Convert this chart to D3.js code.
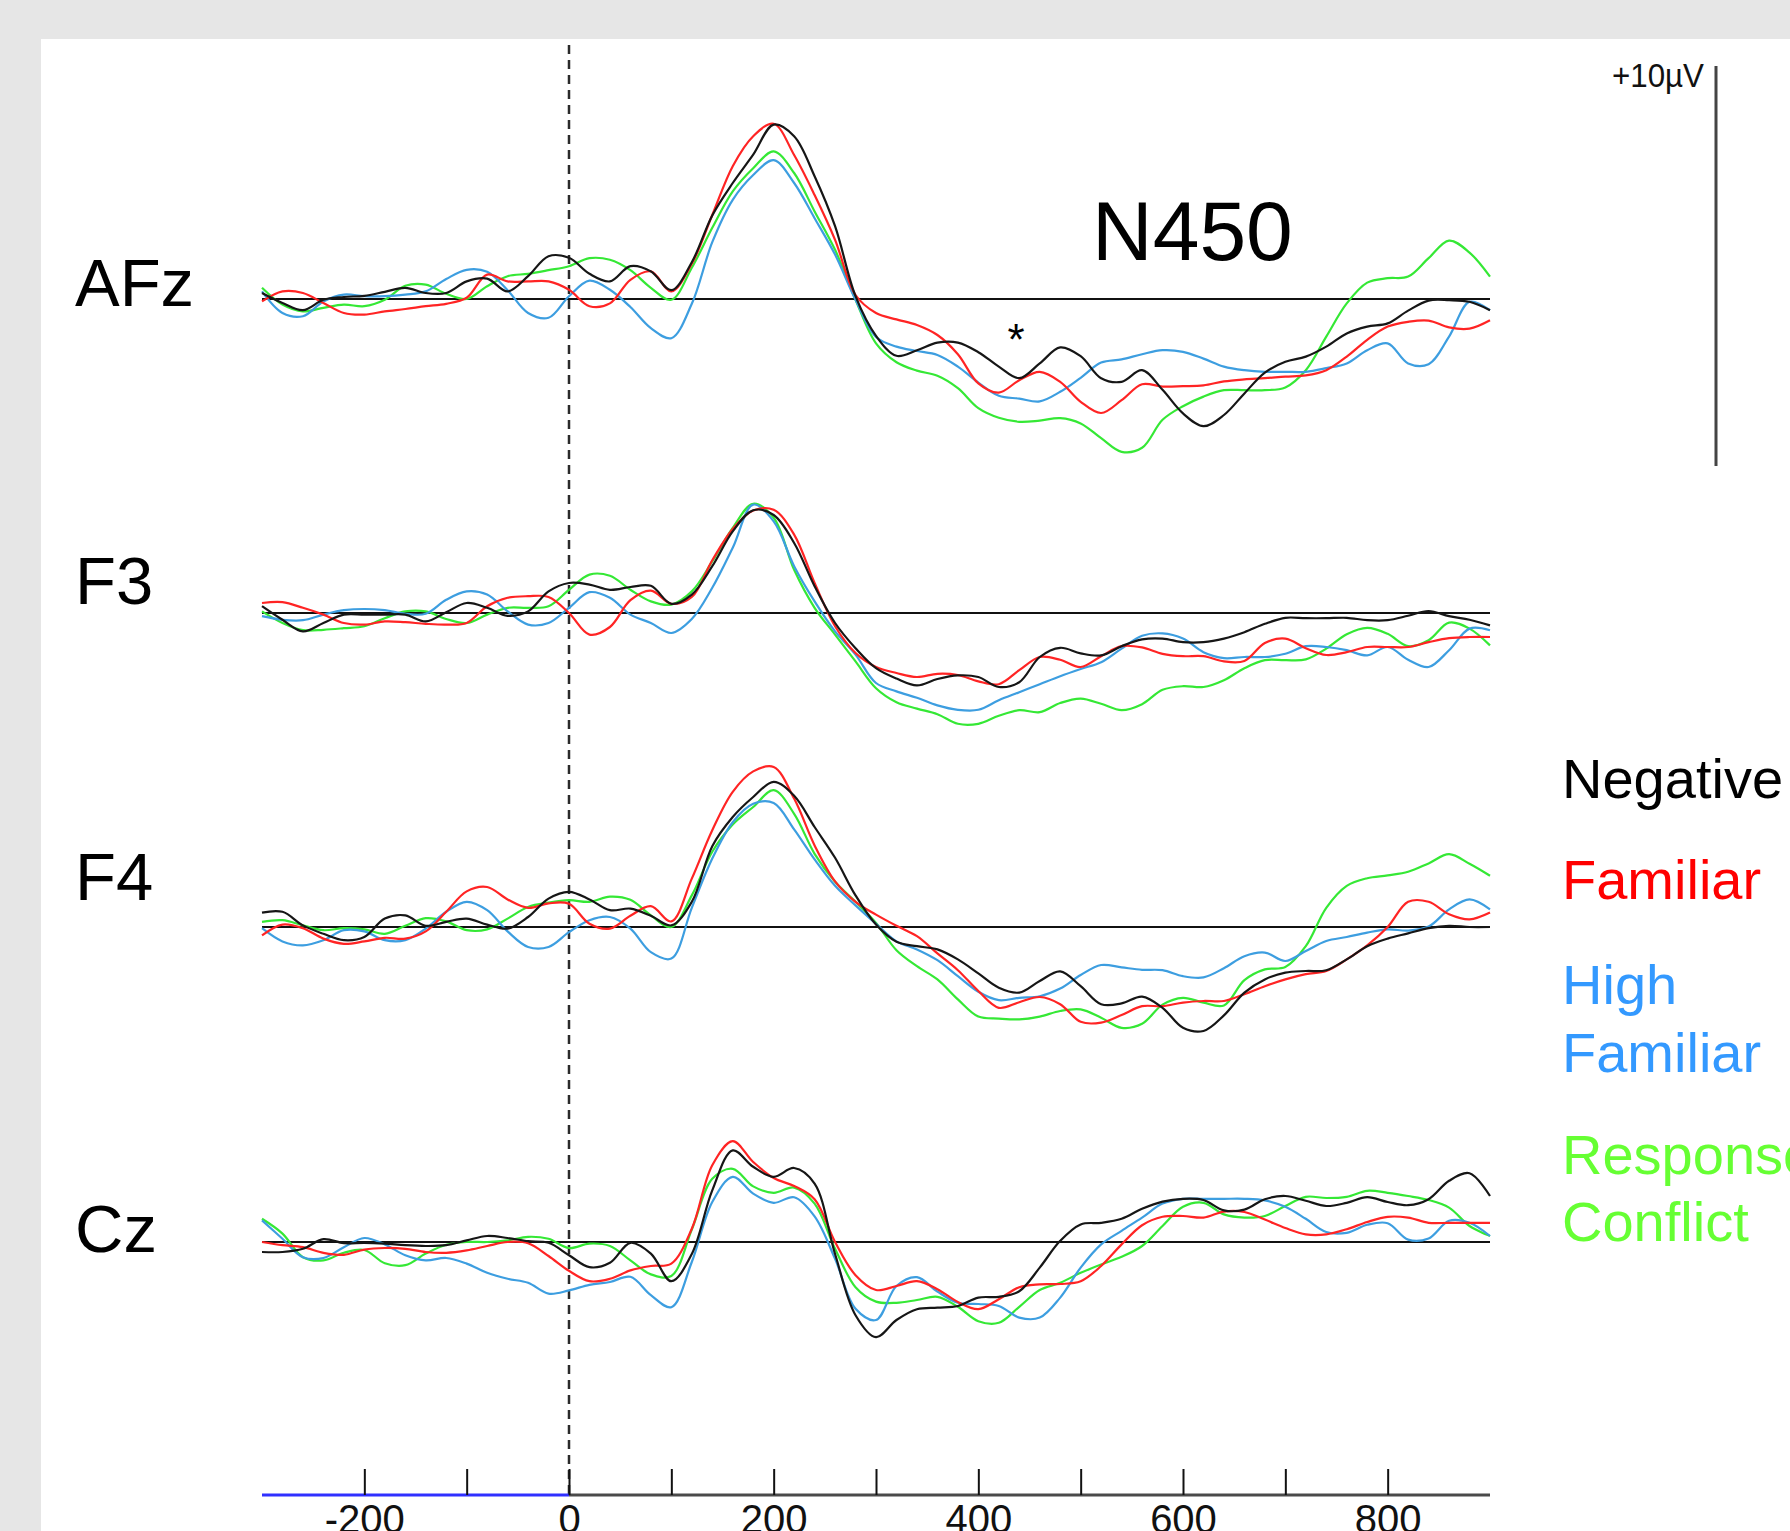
<!DOCTYPE html>
<html>
<head>
<meta charset="utf-8">
<script src="https://cdn.jsdelivr.net/npm/d3@7"></script>
<style>
  html, body { margin: 0; padding: 0; background: #e6e6e6; }
  svg { display: block; }
  text { font-family: "Liberation Sans", Arial, sans-serif; }
</style>
</head>
<body>
<svg id="chart" width="1790" height="1531"></svg>
<script>
// ---------------- DATA ----------------
// time points (ms), one value every 20 ms from -300 to 900
const times = d3.range(-300, 901, 20);
const channels = ["AFz", "F3", "F4", "Cz"];
const conditions = ["Negative", "Familiar", "High Familiar", "Response Conflict"];
const axisTicks = [-200, -100, 0, 100, 200, 300, 400, 500, 600, 700, 800];
const axisLabels = [-200, 0, 200, 400, 600, 800];
const scaleBarLabel = "+10µV";
const componentLabel = "N450";

// amplitudes in µV
const afzNegative = [0.15,-0.1,-0.28,-0.02,0.05,0.08,0.18,0.28,0.15,0.15,0.44,0.51,0.19,0.57,1.07,1.03,0.63,0.44,0.82,0.69,0.22,0.92,2.09,2.9,3.61,4.36,4.07,3.07,1.82,0.07,-0.92,-1.42,-1.28,-1.09,-1.09,-1.33,-1.69,-1.98,-1.61,-1.21,-1.43,-1.98,-2.07,-1.78,-2.27,-2.86,-3.18,-2.9,-2.36,-1.84,-1.57,-1.44,-1.19,-0.86,-0.69,-0.61,-0.29,-0.04,-0.03,-0.07,-0.28];
const afzFamiliar = [-0.06,0.19,0.15,-0.1,-0.35,-0.39,-0.31,-0.25,-0.18,-0.12,0.03,0.61,0.44,0.44,0.44,0.23,-0.18,-0.11,0.48,0.69,0.19,0.88,2.1,3.32,4.07,4.38,3.6,2.6,1.48,0.1,-0.35,-0.51,-0.65,-0.9,-1.38,-2.11,-2.34,-2.03,-1.82,-2.07,-2.57,-2.85,-2.53,-2.13,-2.19,-2.18,-2.16,-2.06,-2.01,-1.98,-1.94,-1.91,-1.78,-1.44,-1.02,-0.69,-0.57,-0.54,-0.71,-0.74,-0.53];
const afzHighFamiliar = [0.19,-0.35,-0.43,-0.06,0.11,0.07,0.07,0.11,0.19,0.5,0.73,0.68,0.22,-0.35,-0.47,0.07,0.46,0.23,-0.2,-0.73,-0.98,-0.12,1.42,2.48,3.1,3.47,2.9,2.02,1.11,-0.02,-0.95,-1.19,-1.3,-1.4,-1.69,-2.09,-2.42,-2.49,-2.56,-2.32,-1.97,-1.59,-1.51,-1.38,-1.28,-1.32,-1.49,-1.69,-1.78,-1.82,-1.82,-1.82,-1.73,-1.61,-1.28,-1.11,-1.61,-1.63,-0.94,-0.07,-0.28];
const afzResponseConflict = [0.28,-0.14,-0.31,-0.22,-0.14,-0.18,-0.02,0.33,0.36,0.13,0,0.32,0.57,0.63,0.72,0.82,1.02,0.98,0.72,0.28,-0.02,0.78,1.78,2.69,3.27,3.69,3.15,2.19,1.23,-0.02,-1.11,-1.58,-1.79,-1.92,-2.23,-2.73,-2.97,-3.07,-3.04,-2.98,-3.11,-3.48,-3.82,-3.72,-3.02,-2.68,-2.44,-2.28,-2.28,-2.28,-2.21,-1.78,-0.94,-0.11,0.41,0.52,0.56,1.02,1.46,1.16,0.56];

const f3Negative = [0.17,-0.17,-0.46,-0.25,-0.04,-0.04,-0.04,-0.04,-0.21,0.02,0.25,0.13,-0.07,0.04,0.54,0.75,0.71,0.58,0.65,0.68,0.23,0.46,1.17,2.04,2.57,2.45,1.75,0.67,-0.25,-0.88,-1.38,-1.64,-1.81,-1.65,-1.56,-1.6,-1.85,-1.73,-1.1,-0.87,-1.01,-1.06,-0.83,-0.66,-0.64,-0.73,-0.73,-0.64,-0.48,-0.27,-0.12,-0.13,-0.13,-0.12,-0.18,-0.18,-0.07,0.05,-0.08,-0.17,-0.31];
const f3Familiar = [0.25,0.27,0.13,-0.04,-0.25,-0.29,-0.21,-0.23,-0.27,-0.29,-0.25,0.17,0.38,0.42,0.4,0,-0.54,-0.35,0.32,0.56,0.23,0.4,1.32,2.1,2.56,2.58,1.96,0.75,-0.33,-1.0,-1.35,-1.5,-1.6,-1.52,-1.55,-1.71,-1.78,-1.43,-1.1,-1.17,-1.35,-1.08,-0.83,-0.86,-1.02,-1.08,-1.08,-1.21,-1.2,-0.75,-0.64,-0.88,-1.05,-0.98,-0.85,-0.85,-0.85,-0.73,-0.63,-0.6,-0.6];
const f3HighFamiliar = [-0.08,-0.17,-0.18,-0.04,0.07,0.1,0.07,-0.02,-0.02,0.33,0.54,0.46,0.04,-0.29,-0.25,0.13,0.52,0.38,-0.04,-0.25,-0.5,-0.15,0.63,1.63,2.71,2.29,1.17,0.29,-0.46,-1.04,-1.75,-1.96,-2.12,-2.31,-2.42,-2.42,-2.18,-1.98,-1.78,-1.58,-1.4,-1.23,-0.89,-0.57,-0.51,-0.64,-0.98,-1.13,-1.1,-1.1,-1.02,-0.83,-0.85,-0.93,-1.06,-0.85,-1.17,-1.35,-0.93,-0.39,-0.43];
const f3ResponseConflict = [0.04,-0.25,-0.43,-0.42,-0.38,-0.33,-0.13,0.04,0.04,-0.15,-0.25,-0.04,0.13,0.13,0.17,0.58,0.96,0.93,0.58,0.29,0.21,0.54,1.29,2.13,2.73,2.38,1.08,0.13,-0.54,-1.21,-1.88,-2.23,-2.39,-2.53,-2.77,-2.77,-2.57,-2.43,-2.48,-2.25,-2.14,-2.27,-2.43,-2.28,-1.92,-1.83,-1.85,-1.68,-1.38,-1.18,-1.18,-1.16,-0.89,-0.53,-0.37,-0.52,-0.83,-0.68,-0.24,-0.39,-0.81];

const f4Negative = [0.36,0.38,0.04,-0.17,-0.33,-0.25,0.21,0.29,0.03,0.13,0.21,0.06,-0.04,0.25,0.71,0.88,0.69,0.42,0.46,0.28,0.04,0.63,2.02,2.75,3.25,3.63,3.28,2.5,1.73,0.79,0.06,-0.37,-0.48,-0.56,-0.81,-1.16,-1.52,-1.64,-1.35,-1.11,-1.48,-1.93,-1.91,-1.74,-2.02,-2.52,-2.6,-2.21,-1.64,-1.31,-1.14,-1.1,-1.08,-0.81,-0.48,-0.29,-0.16,-0.03,0.03,0,0];
const f4Familiar = [-0.21,0.06,-0.03,-0.29,-0.42,-0.36,-0.27,-0.29,-0.11,0.38,0.89,1.0,0.69,0.48,0.59,0.58,0.08,-0.04,0.28,0.52,0.14,1.21,2.42,3.38,3.89,4.0,3.21,2.04,1.14,0.63,0.31,0.03,-0.23,-0.66,-1.08,-1.6,-2.02,-1.88,-1.75,-1.93,-2.37,-2.39,-2.2,-1.98,-1.98,-1.89,-1.85,-1.85,-1.68,-1.48,-1.31,-1.18,-1.1,-0.81,-0.46,0,0.63,0.63,0.32,0.19,0.36];
const f4HighFamiliar = [-0.03,-0.36,-0.46,-0.33,-0.08,-0.11,-0.33,-0.33,-0.04,0.38,0.63,0.42,-0.11,-0.5,-0.5,-0.13,0.17,0.25,-0.04,-0.63,-0.79,0.48,1.71,2.62,3.08,3.1,2.44,1.69,1.03,0.54,0.08,-0.36,-0.56,-0.83,-1.23,-1.62,-1.83,-1.77,-1.73,-1.54,-1.2,-0.95,-1.01,-1.07,-1.08,-1.23,-1.26,-1.03,-0.73,-0.64,-0.85,-0.6,-0.35,-0.25,-0.14,-0.06,-0.09,0.01,0.44,0.69,0.44];
const f4ResponseConflict = [0.13,0.17,0.04,-0.08,-0.03,-0.06,-0.17,0.03,0.22,0.14,-0.08,-0.06,0.21,0.5,0.61,0.67,0.63,0.76,0.68,0.29,0,0.79,1.88,2.56,3.0,3.42,2.83,1.83,1.13,0.63,0.1,-0.58,-0.98,-1.31,-1.81,-2.24,-2.29,-2.31,-2.24,-2.1,-2.06,-2.27,-2.52,-2.42,-1.94,-1.77,-1.89,-1.96,-1.33,-1.06,-1.0,-0.48,0.48,1.03,1.22,1.29,1.38,1.59,1.82,1.58,1.28];

const czNegative = [-0.25,-0.25,-0.17,0.07,-0.03,-0.02,-0.04,-0.08,-0.1,-0.08,0.04,0.15,0.1,0.02,-0.02,-0.33,-0.63,-0.52,-0.02,-0.29,-0.98,-0.3,1.29,2.29,1.88,1.63,1.85,1.46,-0.3,-1.83,-2.38,-1.95,-1.68,-1.64,-1.6,-1.39,-1.37,-1.23,-0.64,0.03,0.44,0.48,0.58,0.83,1.01,1.08,1.05,0.79,0.81,1.07,1.15,1.03,0.9,0.98,1.12,1.0,0.92,1.07,1.53,1.72,1.15];
const czFamiliar = [0,-0.08,-0.13,-0.27,-0.32,-0.19,-0.15,-0.17,-0.25,-0.27,-0.21,-0.1,0,-0.03,-0.35,-0.72,-0.98,-0.92,-0.71,-0.6,-0.54,0.33,1.92,2.52,2.0,1.6,1.4,1.07,0,-0.83,-1.2,-1.1,-0.98,-1.18,-1.5,-1.68,-1.43,-1.13,-1.06,-1.05,-0.98,-0.6,-0.06,0.42,0.63,0.65,0.61,0.76,0.75,0.56,0.35,0.19,0.19,0.32,0.5,0.63,0.61,0.48,0.48,0.48,0.48];
const czHighFamiliar = [0.54,0.08,-0.38,-0.4,-0.13,0.1,-0.06,-0.33,-0.46,-0.4,-0.54,-0.77,-0.92,-1.02,-1.29,-1.21,-1.07,-1.0,-0.87,-1.33,-1.63,-0.5,1.0,1.63,1.21,0.98,1.12,0.64,-0.42,-1.67,-1.95,-1.1,-0.88,-1.24,-1.52,-1.55,-1.6,-1.89,-1.89,-1.39,-0.64,-0.06,0.28,0.61,0.96,1.08,1.08,1.08,1.08,1.04,0.88,0.58,0.25,0.23,0.43,0.47,0.06,0.09,0.53,0.48,0.15];
const czResponseConflict = [0.58,0.21,-0.38,-0.46,-0.27,-0.2,-0.53,-0.58,-0.29,-0.07,0,0,0.04,0.13,0.08,-0.15,-0.04,-0.1,-0.46,-0.81,-0.85,0.31,1.58,1.83,1.39,1.23,1.36,0.96,-0.17,-1.13,-1.49,-1.52,-1.45,-1.37,-1.62,-1.98,-2.02,-1.62,-1.2,-1.02,-0.77,-0.56,-0.37,-0.1,0.4,0.88,0.98,0.69,0.61,0.65,0.9,1.13,1.1,1.13,1.28,1.23,1.15,1.05,0.86,0.4,0.15];

const seriesByChannel = {
  AFz: [afzNegative, afzFamiliar, afzHighFamiliar, afzResponseConflict],
  F3:  [f3Negative, f3Familiar, f3HighFamiliar, f3ResponseConflict],
  F4:  [f4Negative, f4Familiar, f4HighFamiliar, f4ResponseConflict],
  Cz:  [czNegative, czFamiliar, czHighFamiliar, czResponseConflict]
};

// ---------------- STYLE / LAYOUT ----------------
const W = 1790, H = 1531;
const traceColors = ["#161616", "#ff2424", "#3d9ee0", "#35e835"];
const legendColors = ["#000000", "#ff0000", "#3399ff", "#66ff33"];
const baselines = [299, 613, 927, 1242];
const labelBaselines = [306, 604, 900, 1252];
const pxPerMicroV = 40;

const svg = d3.select("#chart");
svg.append("rect").attr("x", 0).attr("y", 0).attr("width", W).attr("height", H).attr("fill", "#e6e6e6");
svg.append("rect").attr("x", 41).attr("y", 39).attr("width", W - 41).attr("height", H - 39).attr("fill", "#ffffff");

const x = d3.scaleLinear().domain([-300, 900]).range([262, 1490]);

// stimulus onset dashed line
svg.append("line")
  .attr("x1", x(0)).attr("x2", x(0))
  .attr("y1", 45).attr("y2", 1495)
  .attr("stroke", "#2a2a2a").attr("stroke-width", 2.5)
  .attr("stroke-dasharray", "9,6");

// channels
channels.forEach((ch, i) => {
  const y = d3.scaleLinear().domain([0, 10]).range([baselines[i], baselines[i] - 10 * pxPerMicroV]);
  const g = svg.append("g");
  g.append("line")
    .attr("x1", x(-300)).attr("x2", x(900))
    .attr("y1", y(0)).attr("y2", y(0))
    .attr("stroke", "#111").attr("stroke-width", 2);
  const line = d3.line()
    .x((d, k) => x(times[k]))
    .y(d => y(d))
    .curve(d3.curveCatmullRom.alpha(0.5));
  const order = [3, 2, 1, 0];
  order.forEach(ci => {
    g.append("path")
      .attr("d", line(seriesByChannel[ch][ci]))
      .attr("fill", "none")
      .attr("stroke", traceColors[ci])
      .attr("stroke-width", 2.2)
      .attr("stroke-linejoin", "round");
  });
  svg.append("text")
    .attr("x", 75).attr("y", labelBaselines[i])
    .attr("font-size", 67).attr("fill", "#000")
    .text(ch);
});

// N450 label and asterisk
svg.append("text").attr("x", 1092).attr("y", 260).attr("font-size", 84).attr("fill", "#000").text(componentLabel);
svg.append("text").attr("x", 1016).attr("y", 355).attr("font-size", 44).attr("text-anchor", "middle").attr("fill", "#000").text("*");

// scale bar
svg.append("line").attr("x1", 1716).attr("x2", 1716).attr("y1", 66).attr("y2", 466)
  .attr("stroke", "#444").attr("stroke-width", 3);
svg.append("text").attr("x", 1704).attr("y", 87).attr("font-size", 33)
  .attr("text-anchor", "end").attr("textLength", 92).attr("lengthAdjust", "spacingAndGlyphs")
  .attr("fill", "#111").text(scaleBarLabel);

// time axis
const axisY = 1495;
svg.append("line").attr("x1", x(0)).attr("x2", x(900)).attr("y1", axisY).attr("y2", axisY)
  .attr("stroke", "#4a4a4a").attr("stroke-width", 3);
svg.append("line").attr("x1", x(-300)).attr("x2", x(0)).attr("y1", axisY).attr("y2", axisY)
  .attr("stroke", "#3030ff").attr("stroke-width", 3);
const tickAxis = d3.axisTop(x).tickValues(axisTicks).tickSize(26).tickFormat("");
const tg = svg.append("g").attr("transform", `translate(0,${axisY})`).call(tickAxis);
tg.select(".domain").remove();
tg.selectAll(".tick line").attr("stroke", "#111").attr("stroke-width", 2);

const labelAxis = d3.axisBottom(x).tickValues(axisLabels).tickSize(0).tickPadding(0).tickFormat(d => String(d));
const lg = svg.append("g").attr("transform", `translate(0,${axisY})`).call(labelAxis);
lg.select(".domain").remove();
lg.selectAll(".tick text")
  .attr("dy", null).attr("y", 38)
  .attr("font-size", 40)
  .attr("font-family", "'Liberation Sans Narrow', 'Liberation Sans', Arial, sans-serif")
  .attr("fill", "#111");

// legend
const legendLines = [
  {t: "Negative", c: 0, y: 798},
  {t: "Familiar", c: 1, y: 899},
  {t: "High", c: 2, y: 1004},
  {t: "Familiar", c: 2, y: 1072},
  {t: "Response", c: 3, y: 1174},
  {t: "Conflict", c: 3, y: 1241}
];
svg.append("g").selectAll("text").data(legendLines).join("text")
  .attr("x", 1562).attr("y", d => d.y)
  .attr("font-size", 56)
  .attr("fill", d => legendColors[d.c])
  .text(d => d.t);
</script>
</body>
</html>
